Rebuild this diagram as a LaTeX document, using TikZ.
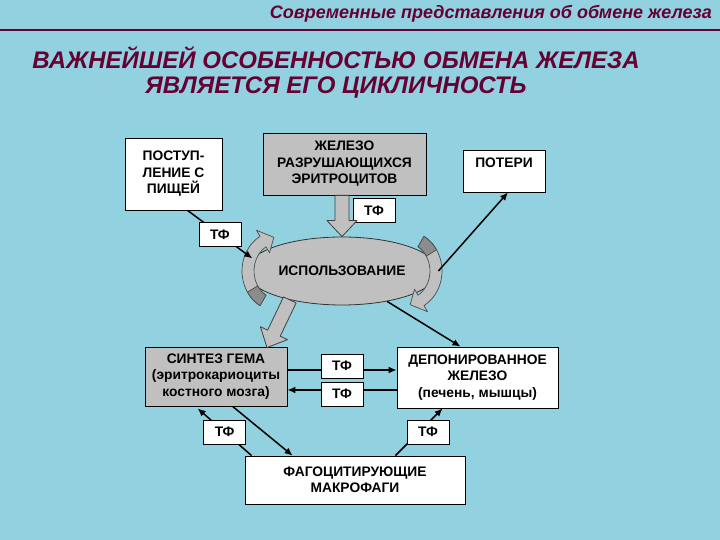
\documentclass[tikz,border=0pt]{standalone}
\usepackage{fontspec}
\setmainfont{Liberation Sans}
\usetikzlibrary{arrows.meta,calc,shapes.geometric}

\definecolor{water}{RGB}{146,209,223}
\definecolor{plum}{RGB}{102,0,51}
\definecolor{silver}{RGB}{192,192,192}

\tikzset{
  heading/.style={text=plum, font=\bfseries\itshape\fontsize{18}{21}\selectfont, inner sep=0pt},
  bigtitle/.style={text=plum, align=center, font=\bfseries\itshape\fontsize{24}{25}\selectfont, inner sep=0pt},
  box/.style={draw=black, fill=white, line width=0.8pt, align=center, inner sep=0pt,
    font=\bfseries\fontsize{13.8}{16.5}\selectfont},
  greybox/.style={box, fill=silver},
  tfbox/.style={box, minimum width=42pt, minimum height=24pt},
  link/.style={line width=1.5pt, -{Latex[length=8pt,width=7pt]}},
  fat/.style={draw=black!75, fill=silver, line width=0.8pt, line join=round},
  swirl/.style={draw=black!70, fill=silver, line width=0.7pt, line join=round},
}

% thick hollow arrow between two points
\newcommand\fatarrow[2]{%
  \path[fat] let \p1=($(#2)-(#1)$), \n1={atan2(\y1,\x1)} in
    ($(#1)+(\n1+90:7)$) -- ($(#2)+(\n1:-16)+(\n1+90:7)$)
    -- ($(#2)+(\n1:-16)+(\n1+90:15)$) -- (#2)
    -- ($(#2)+(\n1:-16)+(\n1-90:15)$) -- ($(#2)+(\n1:-16)+(\n1-90:7)$)
    -- ($(#1)+(\n1-90:7)$) -- cycle;}

\begin{document}
\begin{tikzpicture}[x=1pt,y=1pt]
  \useasboundingbox (0,0) rectangle (720,540);
  \fill[water] (0,0) rectangle (720,540);

  %% Heading
  \node[heading, anchor=east] (header) at (712,526) {Современные представления об обмене железа};
  \draw[plum, line width=2pt] (0,510) -- (720,510);
  \node[bigtitle] (title) at (336,467.5) {ВАЖНЕЙШЕЙ ОСОБЕННОСТЬЮ ОБМЕНА ЖЕЛЕЗА\\ЯВЛЯЕТСЯ ЕГО ЦИКЛИЧНОСТЬ};

  %% Boxes
  \node[box, minimum width=97pt, minimum height=72pt] (feed) at (173.5,366) {ПОСТУП-\\ЛЕНИЕ С\\ПИЩЕЙ};
  \node[greybox, minimum width=163pt, minimum height=62pt] (destroyed) at (344.5,376) {ЖЕЛЕЗО\\РАЗРУШАЮЩИХСЯ\\ЭРИТРОЦИТОВ};
  \node[box, minimum width=82pt, minimum height=42pt, text height=10pt, text depth=16pt] (loss) at (504,369) {ПОТЕРИ};
  \node[tfbox] (tf2) at (374,329.5) {ТФ};
  \node[greybox, minimum width=142pt, minimum height=59pt] (synth) at (216,163.5) {СИНТЕЗ ГЕМА\\(эритрокариоциты\\костного мозга)};
  \node[box, minimum width=161pt, minimum height=61pt] (depot) at (477.5,162.5) {ДЕПОНИРОВАННОЕ\\ЖЕЛЕЗО\\(печень, мышцы)};
  \node[box, minimum width=220pt, minimum height=48pt] (macro) at (355,60) {ФАГОЦИТИРУЮЩИЕ\\МАКРОФАГИ};

  %% Usage and its turning arrows
  \node[ellipse, draw=black!80, fill=silver, line width=0.8pt, minimum width=192pt, minimum height=68pt,
    font=\bfseries\fontsize{13.8}{16.5}\selectfont] (usage) at (342,269) {ИСПОЛЬЗОВАНИЕ};
  \begin{scope}[shift={($(usage.center)+(-64,0)$)}]
    \filldraw[swirl] (240:36 and 40) arc[start angle=240, end angle=120, x radius=36, y radius=40]
      -- (120:43 and 47) -- (98:30 and 34) -- (120:17 and 21) -- (120:24 and 28)
      arc[start angle=120, end angle=240, x radius=24, y radius=28] -- cycle;
    \filldraw[swirl, fill=black!45] (240:36 and 40) arc[start angle=240, end angle=212, x radius=36, y radius=40]
      -- (212:24 and 28) arc[start angle=212, end angle=240, x radius=24, y radius=28] -- cycle;
  \end{scope}
  \begin{scope}[shift={($(usage.center)+(64,0)$)}]
    \filldraw[swirl] (60:36 and 40) arc[start angle=60, end angle=-60, x radius=36, y radius=40]
      -- (-60:43 and 47) -- (-82:30 and 34) -- (-60:17 and 21) -- (-60:24 and 28)
      arc[start angle=-60, end angle=60, x radius=24, y radius=28] -- cycle;
    \filldraw[swirl, fill=black!45] (60:36 and 40) arc[start angle=60, end angle=32, x radius=36, y radius=40]
      -- (32:24 and 28) arc[start angle=32, end angle=60, x radius=24, y radius=28] -- cycle;
  \end{scope}

  %% Hollow arrows
  \coordinate (drop) at (destroyed.south -| usage.north);
  \fatarrow{drop}{usage.north}
  \coordinate (synthin) at ($(synth.north)+(51,-1)$);
  \fatarrow{usage.209}{synthin}

  %% Connectors
  \draw[link] ($(feed.south)+(14,0)$) -- node[tfbox] (tf1) {ТФ} (usage.172);
  \draw[link] (usage.east) -- ($(loss.south)+(4,0)$);
  \draw[link] (usage.-34) -- ($(depot.north)+(-17,0)$);
  \draw[link] ($(synth.east)+(0,6.5)$) -- node[tfbox, yshift=4pt] (tf3) {ТФ} ($(depot.west)+(0,7.5)$);
  \draw[link] ($(depot.west)+(0,-12.5)$) -- node[tfbox, yshift=-4pt] (tf4) {ТФ} ($(synth.east)+(0,-13.5)$);
  \draw[link] ($(macro.north west)+(7,0)$) -- node[tfbox] (tf5) {ТФ} ($(synth.south west)+(53,-2)$);
  \draw[link] ($(synth.south west)+(88,0)$) -- ($(macro.north west)+(48,0)$);
  \draw[link] ($(macro.north east)+(-70,0)$) -- node[tfbox, xshift=9pt] (tf6) {ТФ} ($(depot.south west)+(46,0)$);
\end{tikzpicture}
\end{document}
